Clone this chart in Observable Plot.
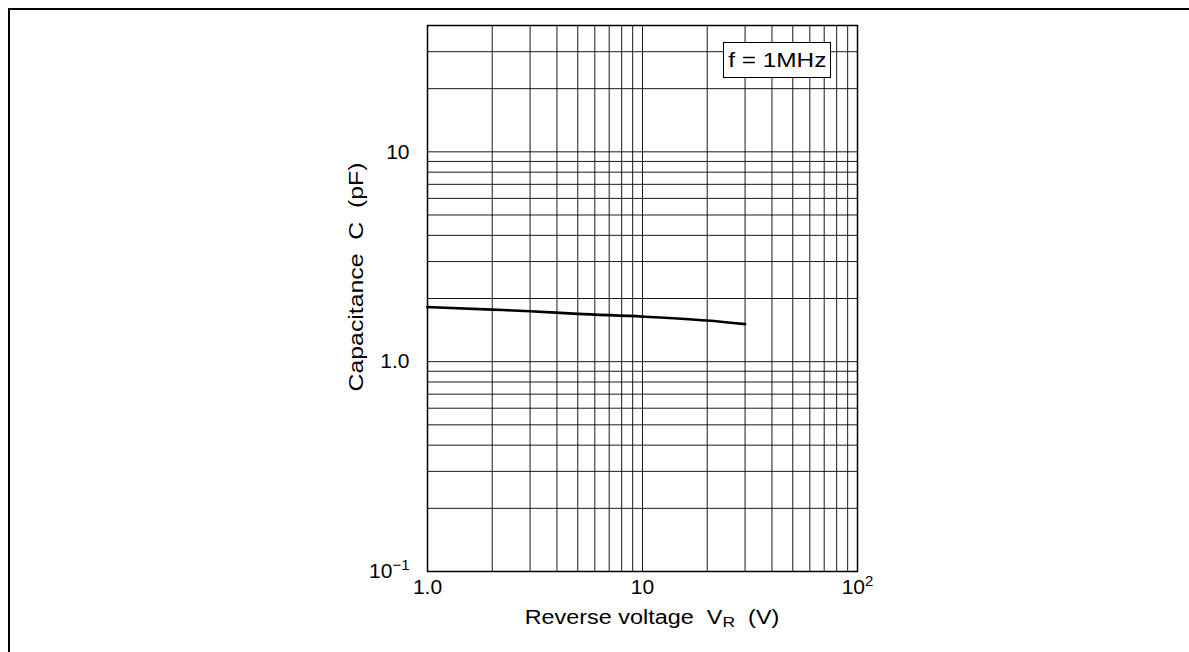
<!DOCTYPE html>
<html>
<head>
<meta charset="utf-8">
<script src="https://cdn.jsdelivr.net/npm/d3@7"></script>
<script src="https://cdn.jsdelivr.net/npm/@observablehq/plot@0.6"></script>
<style>
  html, body { margin: 0; padding: 0; background: #fff; overflow: hidden; }
  body { width: 1189px; height: 652px; position: relative; font-family: "Liberation Sans", Arial, sans-serif; }
  #frame { position: absolute; left: 8px; top: 8px; width: 1300px; height: 800px; border-left: 2px solid #000; border-top: 2px solid #000; box-sizing: border-box; }
  #chart { position: absolute; left: 0; top: 0; }
  .lbl { position: absolute; font-size: 20px; color: #000; white-space: pre; line-height: 1; }
  #ytitle { left: 356px; top: 277px; transform: translate(-50%, -50%) rotate(-90deg) scaleX(1.24); }
  #xtitle { left: 652px; top: 618px; transform: translate(-50%, -50%) scaleX(1.17); }
  #legend { left: 723px; top: 42px; width: 108px; height: 36px; box-sizing: border-box; border: 1.2px solid #000; background: #fff; display: flex; align-items: center; justify-content: center; }
  #legend span { display: inline-block; transform: scaleX(1.22); }
</style>
</head>
<body>
<div id="frame"></div>
<div id="chart"></div>
<div class="lbl" id="ytitle">Capacitance  C  (pF)</div>
<div class="lbl" id="xtitle">Reverse voltage  V<sub style="font-size:15px;vertical-align:-3px">R</sub>  (V)</div>
<div class="lbl" id="legend"><span>f = 1MHz</span></div>
<script>
// Curve (reverse voltage V, capacitance pF)
const voltage = [1, 2, 3, 5, 10, 20, 30];
const capacitance = [1.82, 1.77, 1.74, 1.69, 1.64, 1.57, 1.51];

// Axis ticks and labels
const xTicks = [1, 10, 100];
const xTickLabels = ["1.0", "10", "10^2"];
const yTicks = [0.1, 1, 10];
const yTickLabels = ["10^\u22121", "1.0", "10"];

// Grid lines (log grid)
const xGrid = [1, 2, 3, 4, 5, 6, 7, 8, 9, 10, 20, 30, 40, 50, 60, 70, 80, 90, 100];
const yGrid = [0.1, 0.2, 0.3, 0.4, 0.5, 0.6, 0.7, 0.8, 0.9, 1, 2, 3, 4, 5, 6, 7, 8, 9, 10, 20, 30, 40];

const data = voltage.map((v, i) => ({v, c: capacitance[i]}));

const chart = Plot.plot({
  width: 1189,
  height: 652,
  marginLeft: 427,
  marginRight: 332,
  marginTop: 25,
  marginBottom: 81,
  style: {fontFamily: "'Liberation Sans', Arial, sans-serif", fontSize: "21px", color: "#000", background: "transparent"},
  x: {type: "log", domain: [1, 100]},
  y: {type: "log", domain: [0.1, 40]},
  marks: [
    Plot.ruleX(xGrid, {stroke: "#000", strokeWidth: 1, strokeOpacity: 0.9}),
    Plot.ruleY(yGrid, {stroke: "#000", strokeWidth: 1, strokeOpacity: 0.9}),
    Plot.frame({stroke: "#000", strokeWidth: 1.5}),
    Plot.line(data, {x: "v", y: "c", stroke: "#000", strokeWidth: 2.6, curve: "monotone-x"}),
    Plot.axisX({ticks: xTicks, tickFormat: (d) => xTickLabels[xTicks.indexOf(d)], tickSize: 0, tickPadding: 8, label: null, fontSize: 21}),
    Plot.axisY({ticks: yTicks, tickFormat: (d) => yTickLabels[yTicks.indexOf(d)], tickSize: 0, tickPadding: 18, label: null, fontSize: 21})
  ]
});

// Render "a^b" tick labels as base + superscript tspan
chart.querySelectorAll("text").forEach((t) => {
  const s = t.textContent;
  if (s.includes("^")) {
    const [base, exp] = s.split("^");
    t.textContent = "";
    const ns = "http://www.w3.org/2000/svg";
    const b = document.createElementNS(ns, "tspan");
    b.textContent = base;
    const e = document.createElementNS(ns, "tspan");
    e.textContent = exp;
    e.setAttribute("dy", "-0.55em");
    e.setAttribute("font-size", "15px");
    t.appendChild(b);
    t.appendChild(e);
  }
});

document.getElementById("chart").appendChild(chart);
</script>
</body>
</html>
